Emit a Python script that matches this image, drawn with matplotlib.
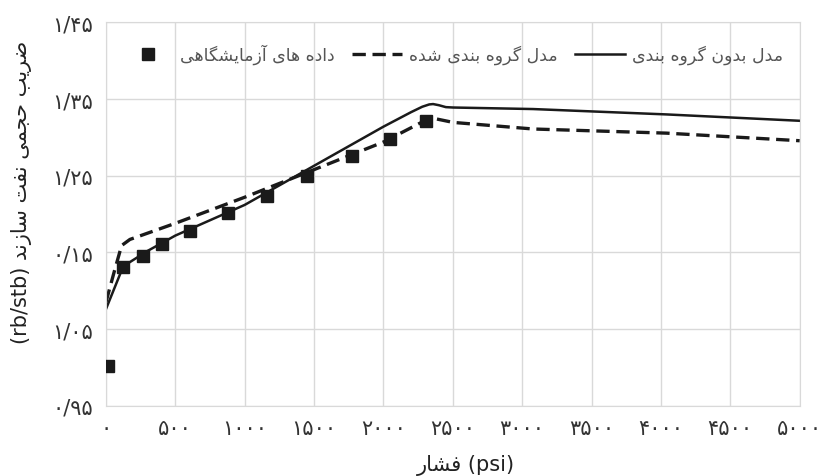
import matplotlib
matplotlib.use("Agg")
import matplotlib.pyplot as plt

# --- data ------------------------------------------------------------------
exp_p = [17, 125, 269, 406, 605, 881, 1158, 1450, 1775, 2051, 2305]
exp_bo = [1.002, 1.131, 1.146, 1.161, 1.178, 1.202, 1.223, 1.250, 1.276, 1.298, 1.321]

ungrouped_p = [0, 125, 300, 500, 1000, 1500, 2000, 2200, 2280, 2330, 2358, 2400, 2450, 2502, 3078, 4039, 5000]
ungrouped_bo = [1.076, 1.132, 1.152, 1.172, 1.212, 1.263, 1.314, 1.333, 1.340, 1.343, 1.3435, 1.342, 1.3395, 1.339, 1.337, 1.330, 1.3217]

grouped_p = [0, 60, 113, 173, 500, 1000, 1500, 2000, 2300, 2358, 2502, 3078, 4039, 5000]
grouped_bo = [1.085, 1.125, 1.159, 1.167, 1.188, 1.222, 1.258, 1.294, 1.322, 1.325, 1.3196, 1.311, 1.3056, 1.2957]

y_ticks = [0.95, 1.05, 1.15, 1.25, 1.35, 1.45]
y_labels = ["۰/۹۵", "۱/۰۵", "۰/۱۵", "۱/۲۵", "۱/۳۵", "۱/۴۵"]
x_ticks = [0, 500, 1000, 1500, 2000, 2500, 3000, 3500, 4000, 4500, 5000]
x_labels = ["۰", "۵۰۰", "۱۰۰۰", "۱۵۰۰", "۲۰۰۰", "۲۵۰۰", "۳۰۰۰", "۳۵۰۰", "۴۰۰۰", "۴۵۰۰", "۵۰۰۰"]

label_exp = "داده های آزمایشگاهی"
label_grouped = "مدل گروه بندی شده"
label_ungrouped = "مدل بدون گروه بندی"
y_title = "ضریب حجمی نفت سازند"
x_title = "فشار"

# --- minimal Persian shaping (matplotlib has no complex text layout) -------
# letter: (isolated, final, initial, medial); right-joining letters have only two forms
FORMS = {
    "ا": ("\uFE8D", "\uFE8E"), "آ": ("\uFE81", "\uFE82"),
    "د": ("\uFEA9", "\uFEAA"), "ر": ("\uFEAD", "\uFEAE"),
    "ز": ("\uFEAF", "\uFEB0"), "و": ("\uFEED", "\uFEEE"),
    "ب": ("\uFE8F", "\uFE90", "\uFE91", "\uFE92"),
    "ت": ("\uFE95", "\uFE96", "\uFE97", "\uFE98"),
    "ج": ("\uFE9D", "\uFE9E", "\uFE9F", "\uFEA0"),
    "ح": ("\uFEA1", "\uFEA2", "\uFEA3", "\uFEA4"),
    "س": ("\uFEB1", "\uFEB2", "\uFEB3", "\uFEB4"),
    "ش": ("\uFEB5", "\uFEB6", "\uFEB7", "\uFEB8"),
    "ض": ("\uFEBD", "\uFEBE", "\uFEBF", "\uFEC0"),
    "ف": ("\uFED1", "\uFED2", "\uFED3", "\uFED4"),
    "ل": ("\uFEDD", "\uFEDE", "\uFEDF", "\uFEE0"),
    "م": ("\uFEE1", "\uFEE2", "\uFEE3", "\uFEE4"),
    "ن": ("\uFEE5", "\uFEE6", "\uFEE7", "\uFEE8"),
    "ه": ("\uFEE9", "\uFEEA", "\uFEEB", "\uFEEC"),
    "ی": ("\uFBFC", "\uFBFD", "\uFBFE", "\uFBFF"),
    "گ": ("\uFB92", "\uFB93", "\uFB94", "\uFB95"),
}


def fa(text):
    """Shape Persian letters and return them in visual (left-to-right) order."""
    out = []
    for i, ch in enumerate(text):
        f = FORMS.get(ch)
        if f is None:
            out.append(ch)
            continue
        prev = text[i - 1] if i > 0 else ""
        nxt = text[i + 1] if i + 1 < len(text) else ""
        join_prev = prev in FORMS and len(FORMS[prev]) == 4
        join_next = len(f) == 4 and nxt in FORMS
        if join_prev and join_next:
            out.append(f[3])
        elif join_prev:
            out.append(f[1])
        elif join_next:
            out.append(f[2])
        else:
            out.append(f[0])
    return "".join(out)[::-1]


plt.rcParams["font.family"] = ["DejaVu Sans"]

fig = plt.figure(figsize=(8.21, 4.77), dpi=100)
ax = fig.add_axes([0.129, 0.147, 0.845, 0.804])

ax.plot(ungrouped_p, ungrouped_bo, color="#1a1a1a", lw=1.8, label=fa(label_ungrouped))
ax.plot(grouped_p, grouped_bo, color="#1a1a1a", lw=2.4, ls=(0, (4, 2)), label=fa(label_grouped))
ax.plot(exp_p, exp_bo, ls="none", marker="s", ms=8, color="#1a1a1a", label=fa(label_exp), zorder=5)

ax.set_xlim(0, 5000)
ax.set_ylim(0.95, 1.45)
ax.set_xticks(x_ticks)
ax.set_xticklabels(x_labels)
ax.set_yticks(y_ticks)
ax.set_yticklabels(y_labels)
ax.tick_params(length=0, labelsize=15, colors="#333333", pad=9)
ax.grid(True, color="#d9d9d9", lw=1)
for s in ax.spines.values():
    s.set_color("#d9d9d9")
ax.set_axisbelow(True)

ax.set_xlabel(fa(x_title) + " (psi)", fontsize=15, color="#222222")
ax.xaxis.set_label_coords(0.519, -0.126)
ax.set_ylabel("(rb/stb) " + fa(y_title), fontsize=15, color="#222222")
ax.yaxis.set_label_coords(-0.106, 0.56)

handles, labels = ax.get_legend_handles_labels()
ax.legend(handles[::-1], labels[::-1], ncol=3, loc="center", bbox_to_anchor=(0.5, 0.917),
          frameon=False, fontsize=12.5, handlelength=2.9, handletextpad=0.4,
          columnspacing=1.0, labelcolor="#555555")

fig.savefig("out.png", dpi=100)
